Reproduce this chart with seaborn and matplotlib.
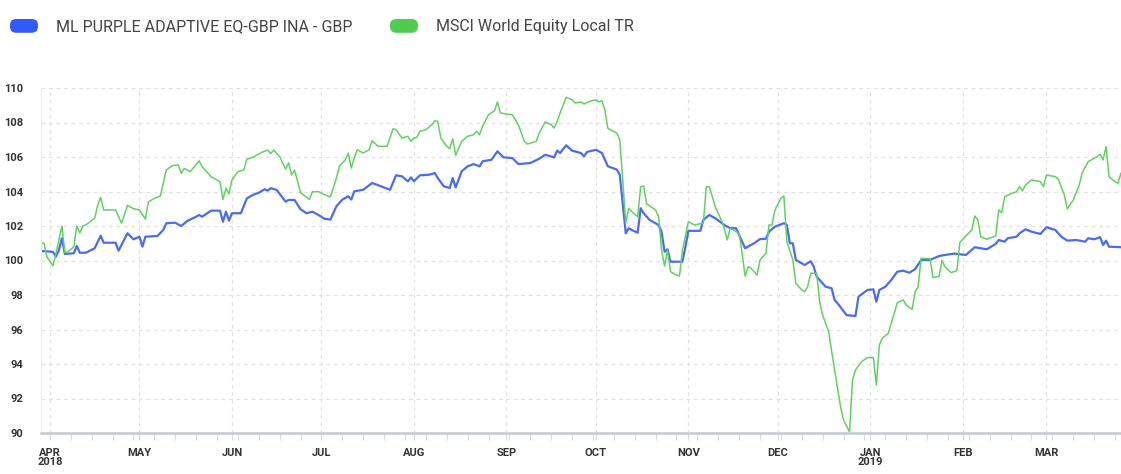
import matplotlib
matplotlib.use("Agg")
import matplotlib.pyplot as plt
import matplotlib.dates as mdates
from matplotlib import font_manager
from matplotlib.patches import FancyBboxPatch, Patch
from matplotlib.legend_handler import HandlerPatch
import pandas as pd
import seaborn as sns

series_names = ["ML PURPLE ADAPTIVE EQ-GBP INA - GBP", "MSCI World Equity Local TR"]

blue_dates = [
    "2018-03-29", "2018-04-02", "2018-04-03", "2018-04-04", "2018-04-05", "2018-04-06", "2018-04-09",
    "2018-04-10", "2018-04-11", "2018-04-13", "2018-04-16", "2018-04-18", "2018-04-19", "2018-04-23",
    "2018-04-24", "2018-04-27", "2018-04-29",
    "2018-05-01", "2018-05-02", "2018-05-03", "2018-05-07", "2018-05-09", "2018-05-10", "2018-05-13",
    "2018-05-15", "2018-05-17", "2018-05-20", "2018-05-21", "2018-05-22", "2018-05-25", "2018-05-28",
    "2018-05-29", "2018-05-30", "2018-05-31",
    "2018-06-01", "2018-06-04", "2018-06-06", "2018-06-08", "2018-06-10", "2018-06-12", "2018-06-13",
    "2018-06-14", "2018-06-16", "2018-06-19", "2018-06-20", "2018-06-22", "2018-06-24", "2018-06-26",
    "2018-06-28", "2018-06-30",
    "2018-07-02", "2018-07-04", "2018-07-06", "2018-07-08", "2018-07-10", "2018-07-11", "2018-07-12",
    "2018-07-15", "2018-07-18", "2018-07-21", "2018-07-24", "2018-07-26", "2018-07-28", "2018-07-30",
    "2018-07-31",
    "2018-08-01", "2018-08-03", "2018-08-06", "2018-08-08", "2018-08-09", "2018-08-11", "2018-08-13",
    "2018-08-14", "2018-08-15", "2018-08-17", "2018-08-19", "2018-08-21", "2018-08-23", "2018-08-24",
    "2018-08-27", "2018-08-29", "2018-08-31",
    "2018-09-03", "2018-09-05", "2018-09-09", "2018-09-12", "2018-09-14", "2018-09-17", "2018-09-18",
    "2018-09-19", "2018-09-21", "2018-09-23", "2018-09-26", "2018-09-27", "2018-09-28",
    "2018-10-01", "2018-10-03", "2018-10-05", "2018-10-08", "2018-10-09", "2018-10-11", "2018-10-12",
    "2018-10-13", "2018-10-15", "2018-10-16", "2018-10-17", "2018-10-19", "2018-10-22", "2018-10-23",
    "2018-10-24", "2018-10-25", "2018-10-26", "2018-10-30", "2018-10-31",
    "2018-11-01", "2018-11-05", "2018-11-06", "2018-11-08", "2018-11-10", "2018-11-13", "2018-11-15",
    "2018-11-17", "2018-11-20", "2018-11-23", "2018-11-25", "2018-11-27", "2018-11-28", "2018-11-30",
    "2018-12-03", "2018-12-04", "2018-12-05", "2018-12-06", "2018-12-07", "2018-12-10", "2018-12-12",
    "2018-12-13", "2018-12-14", "2018-12-15", "2018-12-17", "2018-12-19", "2018-12-20", "2018-12-21",
    "2018-12-24", "2018-12-27", "2018-12-28", "2018-12-31",
    "2019-01-02", "2019-01-03", "2019-01-04", "2019-01-06", "2019-01-08", "2019-01-10", "2019-01-12",
    "2019-01-14", "2019-01-16", "2019-01-18", "2019-01-21", "2019-01-24", "2019-01-26", "2019-01-29",
    "2019-02-02", "2019-02-05", "2019-02-09", "2019-02-12", "2019-02-13", "2019-02-15", "2019-02-16",
    "2019-02-19", "2019-02-20", "2019-02-22", "2019-02-24", "2019-02-27",
    "2019-03-01", "2019-03-04", "2019-03-06", "2019-03-08", "2019-03-11", "2019-03-14", "2019-03-15",
    "2019-03-17", "2019-03-19", "2019-03-20", "2019-03-21", "2019-03-22", "2019-03-26",
]
blue_values = [
    100.55, 100.50, 100.22, 100.60, 101.29, 100.38, 100.42,
    100.84, 100.45, 100.45, 100.71, 101.44, 101.03, 101.03,
    100.57, 101.58, 101.23,
    101.38, 100.80, 101.38, 101.42, 101.77, 102.16, 102.19,
    102.00, 102.29, 102.54, 102.64, 102.54, 102.89, 102.89,
    102.25, 102.83, 102.31,
    102.74, 102.74, 103.60, 103.80, 103.93, 104.13, 104.05,
    104.19, 104.09, 103.41, 103.51, 103.51, 102.97, 102.74,
    102.83, 102.64,
    102.42, 102.37, 103.14, 103.53, 103.72, 103.53, 104.01,
    104.10, 104.49, 104.30, 104.10, 104.94, 104.88, 104.59,
    104.82,
    104.59, 104.94, 104.97, 105.07, 104.78, 104.30, 104.20,
    104.78, 104.24, 105.17, 105.46, 105.59, 105.46, 105.75,
    105.84, 106.33, 105.98,
    105.94, 105.59, 105.65, 105.90, 106.13, 105.98, 106.37,
    106.23, 106.68, 106.37, 106.23, 106.04, 106.29,
    106.42, 106.23, 105.46, 105.27, 104.97, 101.58, 101.87,
    101.77, 101.61, 103.03, 102.74, 102.35, 102.06, 101.67,
    100.51, 100.65, 99.93, 99.93, 100.80,
    101.72, 101.72, 102.35, 102.64, 102.45, 102.06, 101.87,
    101.87, 100.71, 101.00, 101.24, 101.26, 101.67, 101.96,
    102.16, 102.06, 101.00, 101.00, 100.03, 99.74, 99.96,
    99.64, 99.06, 98.87, 98.48, 98.39, 97.71, 97.52,
    96.84, 96.78, 97.90, 98.29,
    98.33, 97.61, 98.29, 98.48, 98.87, 99.35, 99.41,
    99.29, 99.50, 100.03, 100.03, 100.26, 100.32, 100.40,
    100.32, 100.77, 100.65, 100.96, 101.19, 101.09, 101.29,
    101.38, 101.58, 101.81, 101.67, 101.54,
    101.93, 101.77, 101.38, 101.15, 101.19, 101.09, 101.29,
    101.23, 101.35, 100.90, 101.15, 100.80, 100.77,
]

green_dates = [
    "2018-03-29", "2018-03-30", "2018-03-31", "2018-04-02", "2018-04-03", "2018-04-05", "2018-04-06",
    "2018-04-07", "2018-04-09", "2018-04-10", "2018-04-11", "2018-04-12", "2018-04-13", "2018-04-16",
    "2018-04-17", "2018-04-18", "2018-04-19", "2018-04-23", "2018-04-25", "2018-04-27", "2018-04-29",
    "2018-05-01", "2018-05-03", "2018-05-04", "2018-05-06", "2018-05-08", "2018-05-10", "2018-05-12",
    "2018-05-14", "2018-05-15", "2018-05-16", "2018-05-18", "2018-05-21", "2018-05-22", "2018-05-25",
    "2018-05-27", "2018-05-28", "2018-05-29", "2018-05-30", "2018-05-31",
    "2018-06-01", "2018-06-03", "2018-06-05", "2018-06-06", "2018-06-08", "2018-06-11", "2018-06-13",
    "2018-06-14", "2018-06-15", "2018-06-17", "2018-06-19", "2018-06-20", "2018-06-21", "2018-06-22",
    "2018-06-24", "2018-06-25", "2018-06-27", "2018-06-28", "2018-06-30",
    "2018-07-02", "2018-07-04", "2018-07-06", "2018-07-07", "2018-07-09", "2018-07-10", "2018-07-11",
    "2018-07-12", "2018-07-13", "2018-07-15", "2018-07-17", "2018-07-18", "2018-07-20", "2018-07-23",
    "2018-07-25", "2018-07-26", "2018-07-28", "2018-07-30", "2018-07-31",
    "2018-08-01", "2018-08-02", "2018-08-03", "2018-08-05", "2018-08-07", "2018-08-08", "2018-08-09",
    "2018-08-10", "2018-08-12", "2018-08-13", "2018-08-14", "2018-08-15", "2018-08-17", "2018-08-19",
    "2018-08-21", "2018-08-22", "2018-08-23", "2018-08-24", "2018-08-26", "2018-08-28", "2018-08-29",
    "2018-08-30",
    "2018-09-01", "2018-09-03", "2018-09-05", "2018-09-07", "2018-09-08", "2018-09-11", "2018-09-12",
    "2018-09-14", "2018-09-16", "2018-09-17", "2018-09-18", "2018-09-19", "2018-09-21", "2018-09-23",
    "2018-09-24", "2018-09-26", "2018-09-27", "2018-09-29",
    "2018-10-01", "2018-10-02", "2018-10-03", "2018-10-04", "2018-10-05", "2018-10-08", "2018-10-09",
    "2018-10-10", "2018-10-11", "2018-10-12", "2018-10-13", "2018-10-15", "2018-10-16", "2018-10-17",
    "2018-10-18", "2018-10-21", "2018-10-22", "2018-10-23", "2018-10-24", "2018-10-25", "2018-10-26",
    "2018-10-28", "2018-10-29", "2018-10-30",
    "2018-11-01", "2018-11-03", "2018-11-06", "2018-11-07", "2018-11-08", "2018-11-10", "2018-11-12",
    "2018-11-13", "2018-11-14", "2018-11-15", "2018-11-18", "2018-11-19", "2018-11-20", "2018-11-21",
    "2018-11-22", "2018-11-24", "2018-11-25", "2018-11-27", "2018-11-28", "2018-11-29", "2018-11-30",
    "2018-12-02", "2018-12-03", "2018-12-04", "2018-12-06", "2018-12-07", "2018-12-09", "2018-12-10",
    "2018-12-11", "2018-12-12", "2018-12-14", "2018-12-15", "2018-12-16", "2018-12-18", "2018-12-20",
    "2018-12-22", "2018-12-23", "2018-12-25", "2018-12-26", "2018-12-27", "2018-12-29", "2018-12-31",
    "2019-01-02", "2019-01-03", "2019-01-04", "2019-01-05", "2019-01-07", "2019-01-09", "2019-01-10",
    "2019-01-12", "2019-01-13", "2019-01-15", "2019-01-16", "2019-01-17", "2019-01-18", "2019-01-21",
    "2019-01-22", "2019-01-24", "2019-01-25", "2019-01-26", "2019-01-28", "2019-01-30", "2019-01-31",
    "2019-02-02", "2019-02-04", "2019-02-05", "2019-02-06", "2019-02-07", "2019-02-09", "2019-02-12",
    "2019-02-13", "2019-02-14", "2019-02-15", "2019-02-17", "2019-02-19", "2019-02-20", "2019-02-21",
    "2019-02-22", "2019-02-24", "2019-02-27", "2019-02-28",
    "2019-03-01", "2019-03-04", "2019-03-05", "2019-03-07", "2019-03-08", "2019-03-10", "2019-03-12",
    "2019-03-13", "2019-03-15", "2019-03-18", "2019-03-19", "2019-03-20", "2019-03-21", "2019-03-22",
    "2019-03-24", "2019-03-25", "2019-03-26",
]
green_values = [
    101.04, 101.00, 100.20, 99.70, 100.40, 102.00, 100.45,
    100.50, 100.80, 102.00, 101.60, 102.00, 102.06, 102.45,
    103.20, 103.66, 102.93, 102.93, 102.16, 103.20, 103.00,
    102.93, 102.40, 103.40, 103.60, 103.74, 105.25, 105.50,
    105.54, 105.05, 105.34, 105.15, 105.78, 105.44, 104.86,
    104.67, 104.57, 103.54, 104.19, 103.86,
    104.67, 105.15, 105.25, 105.87, 105.98, 106.27, 106.40,
    106.20, 106.40, 106.02, 105.30, 105.66, 104.96, 105.25,
    103.93, 103.80, 103.54, 103.99, 103.99,
    103.82, 103.68, 104.78, 105.46, 105.84, 106.23, 105.36,
    105.94, 106.42, 106.23, 106.42, 106.94, 106.62, 106.62,
    107.64, 107.58, 107.10, 107.20, 106.91,
    107.10, 107.14, 107.49, 107.58, 107.87, 108.10, 108.07,
    107.10, 106.62, 106.48, 107.06, 106.10, 106.91, 107.20,
    107.29, 107.49, 107.29, 107.78, 108.45, 108.68, 109.19,
    108.55,
    108.49, 108.45, 107.87, 106.91, 106.75, 106.91, 107.39,
    108.03, 107.87, 107.68, 108.07, 108.55, 109.46, 109.32,
    109.13, 109.19, 109.07, 109.23,
    109.32, 109.19, 109.27, 108.72, 107.66, 107.39, 107.00,
    104.67, 102.16, 103.03, 102.83, 102.54, 104.28, 104.32,
    103.28, 102.93, 102.54, 100.60, 99.68, 100.60, 99.35,
    99.16, 99.10, 100.60,
    102.25, 102.06, 102.16, 104.28, 104.28, 103.12, 102.35,
    101.87, 101.19, 101.87, 101.58, 100.42, 99.10, 99.64,
    99.55, 99.16, 100.03, 100.42, 102.06, 102.06, 102.93,
    103.60, 103.74, 101.10, 100.03, 98.68, 98.29, 98.19,
    98.50, 99.26, 99.26, 97.60, 96.84, 95.87, 93.65,
    91.52, 90.75, 90.08, 93.07, 93.65, 94.13, 94.37,
    94.37, 92.78, 95.10, 95.49, 95.78, 96.94, 97.55,
    97.71, 97.42, 97.17, 98.19, 98.48, 100.13, 100.10,
    99.00, 99.08, 100.00, 99.64, 99.30, 99.41, 101.05,
    101.42, 101.77, 102.58, 102.35, 101.38, 101.23, 101.42,
    102.93, 102.77, 103.70, 103.86, 103.99, 104.28, 104.05,
    104.38, 104.67, 104.57, 104.28,
    104.96, 104.86, 104.71, 103.80, 102.99, 103.51, 104.38,
    105.09, 105.73, 106.02, 106.17, 105.83, 106.60, 104.86,
    104.57, 104.47, 105.07,
]

month_ticks = ["2018-04-01", "2018-05-01", "2018-06-01", "2018-07-01", "2018-08-01", "2018-09-01",
               "2018-10-01", "2018-11-01", "2018-12-01", "2019-01-01", "2019-02-01", "2019-03-01"]
month_labels = ["APR\n2018", "MAY", "JUN", "JUL", "AUG", "SEP",
                "OCT", "NOV", "DEC", "JAN\n2019", "FEB", "MAR"]
y_ticks = [90, 92, 94, 96, 98, 100, 102, 104, 106, 108, 110]

blue_line = "#4a6cf5"
green_line = "#62d162"
blue_key = "#3259fb"
green_key = "#4fcb50"

sns.set_theme(style="white")
installed = {f.name for f in font_manager.fontManager.ttflist}
narrow = "Liberation Sans Narrow" if "Liberation Sans Narrow" in installed else "Roboto"
plt.rcParams["font.family"] = [narrow, "DejaVu Sans"]

blue = pd.DataFrame({"date": pd.to_datetime(blue_dates), "value": blue_values})
green = pd.DataFrame({"date": pd.to_datetime(green_dates), "value": green_values})

fig = plt.figure(figsize=(11.21, 4.74), dpi=100)
ax = fig.add_axes([41 / 1121, 41 / 474, 1080 / 1121, 345 / 474])

sns.lineplot(data=blue, x="date", y="value", color=blue_line, lw=1.6, ax=ax)
sns.lineplot(data=green, x="date", y="value", color=green_line, lw=1.1, ax=ax)

ax.set_xlim(pd.Timestamp("2018-03-29"), pd.Timestamp("2019-03-26"))
ax.set_ylim(90, 110)
ax.set_yticks(y_ticks)
ax.set_xticks(pd.to_datetime(month_ticks), month_labels)
ax.xaxis.set_minor_locator(mdates.WeekdayLocator(byweekday=mdates.SU))
ax.set_xlabel("")
ax.set_ylabel("")

ax.grid(True, which="major", color="#e2e2e2", linestyle=(0, (3, 3)), lw=0.9)
for side in ["top", "right"]:
    ax.spines[side].set_visible(False)
ax.spines["left"].set_color("#ececec")
ax.spines["left"].set_linewidth(0.8)
ax.spines["bottom"].set_color("#c4c8d0")
ax.spines["bottom"].set_linewidth(1.8)

ax.tick_params(axis="x", which="both", bottom=True, length=5, width=0.8, color="#d6dbe6",
               direction="out", pad=6, labelsize=8, labelcolor="#333333")
ax.tick_params(axis="y", length=0, pad=13, labelsize=8, labelcolor="#333333")
plt.setp(ax.get_xticklabels(), fontweight="bold", linespacing=0.9)
plt.setp(ax.get_yticklabels(), fontweight="bold")


def pill(legend, orig_handle, xdescent, ydescent, width, height, fontsize):
    return FancyBboxPatch((-xdescent, -ydescent), width, height,
                          boxstyle="round,pad=0,rounding_size=4.5")


keys = [blue_key, green_key]
anchors = [10 / 1121, 390 / 1121]
for name, key, x0 in zip(series_names, keys, anchors):
    fig.legend(handles=[Patch(facecolor=key, edgecolor="none")], labels=[name],
               loc="upper left", bbox_to_anchor=(x0, 1 - 19 / 474), frameon=False,
               fontsize=11.5, labelcolor="#444444", handlelength=1.75, handleheight=0.95,
               handletextpad=1.1, borderpad=0, borderaxespad=0,
               handler_map={Patch: HandlerPatch(patch_func=pill)})

fig.savefig("out.png", dpi=100)
